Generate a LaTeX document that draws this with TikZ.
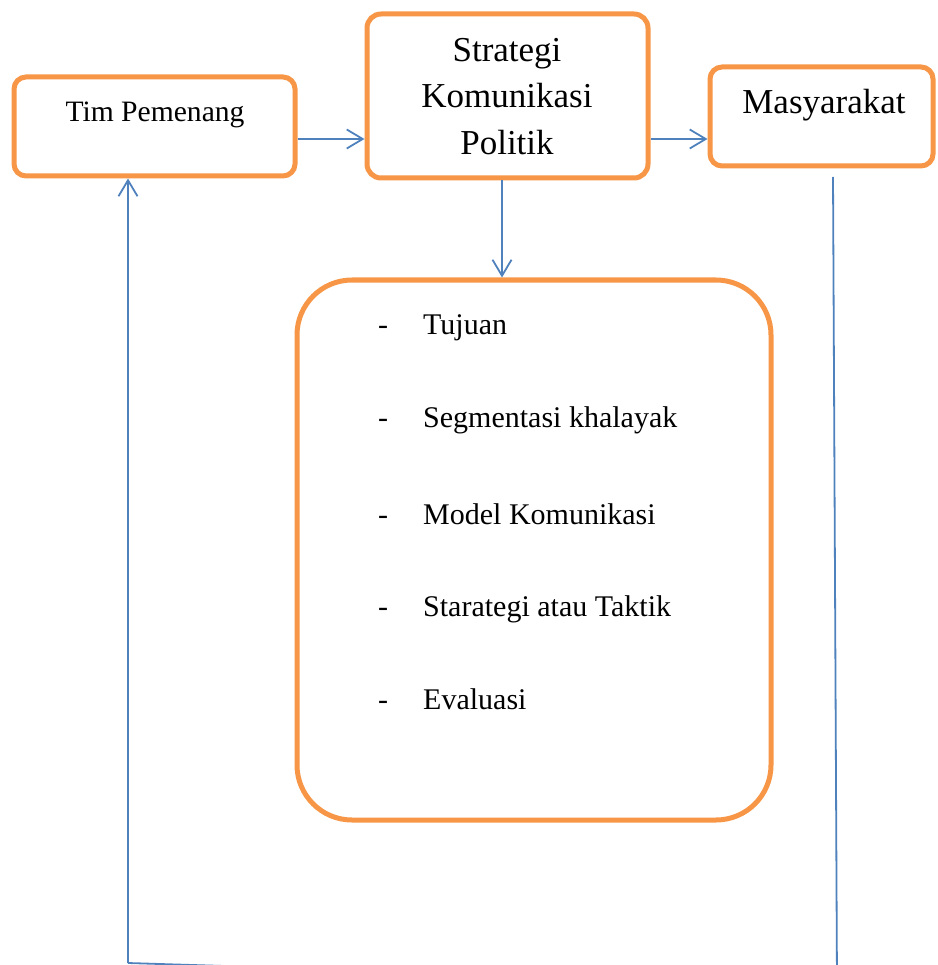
\documentclass[tikz,border=0pt]{standalone}
\usepackage{fontspec}
\setmainfont{Liberation Serif}
\usetikzlibrary{arrows.meta}
\definecolor{boxorange}{RGB}{247,150,70}
\definecolor{linkblue}{RGB}{79,129,189}
\begin{document}
\begin{tikzpicture}[x=1pt,y=-1pt,
  box/.style={draw=boxorange, line width=5pt, rounded corners=12pt, fill=white, inner sep=0pt},
  conn/.style={draw=linkblue, line width=1.8pt, -{Straight Barb[length=16pt,width=19pt,line width=1.8pt]}},
  plain/.style={draw=linkblue, line width=1.8pt},
  smalltxt/.style={font=\fontsize{29.6}{35}\selectfont, inner sep=0pt},
  bigtxt/.style={font=\fontsize{35}{46}\selectfont, inner sep=0pt},
  itemtxt/.style={font=\fontsize{30}{36}\selectfont, inner sep=0pt}]
\useasboundingbox (0,0) rectangle (937,965);
% boxes
\node[box, minimum width=281pt, minimum height=99pt] (tim) at (154.5,126.5) {};
\node[box, minimum width=281pt, minimum height=164pt, rounded corners=14pt] (strat) at (507.5,96) {};
\node[box, minimum width=223pt, minimum height=99pt] (masy) at (821.5,116.5) {};
\node[box, minimum width=474pt, minimum height=540pt, rounded corners=55pt] (big) at (534,550) {};
% texts
\node[smalltxt, anchor=base] (timt) at (155,122) {Tim Pemenang};
\node[bigtxt, anchor=base] (s1) at (507,61.5) {Strategi};
\node[bigtxt, anchor=base] (s2) at (507,108) {Komunikasi};
\node[bigtxt, anchor=base] (s3) at (507,154.5) {Politik};
\node[bigtxt, anchor=base] (masyt) at (824,114) {Masyarakat};
% items
\node[itemtxt, anchor=base] (d1) at (383,334) {-};
\node[itemtxt, anchor=base west] (i1) at (423,334) {Tujuan};
\node[itemtxt, anchor=base] (d2) at (383,427) {-};
\node[itemtxt, anchor=base west] (i2) at (423,427) {Segmentasi khalayak};
\node[itemtxt, anchor=base] (d3) at (383,524) {-};
\node[itemtxt, anchor=base west] (i3) at (423,524) {Model Komunikasi};
\node[itemtxt, anchor=base] (d4) at (383,616) {-};
\node[itemtxt, anchor=base west] (i4) at (423,616) {Starategi atau Taktik};
\node[itemtxt, anchor=base] (d5) at (383,709) {-};
\node[itemtxt, anchor=base west] (i5) at (423,709) {Evaluasi};
% connectors
\draw[conn] ([yshift=-12.5pt]tim.east) -- ([yshift=-12.5pt]tim.east -| strat.west);
\draw[conn] ([yshift=-43pt]strat.east) -- ([yshift=-43pt]strat.east -| masy.west);
\draw[conn] ([xshift=-5.5pt]strat.south) -- ([xshift=-5.5pt]strat.south |- big.north);
\coordinate (mtop) at (833,177);
\coordinate (mb) at (837,985);
\coordinate (lb) at (128,963);
\draw[plain] (mtop) -- (mb);
\draw[plain] (lb) -- (mb);
\draw[conn] (lb) -- (lb |- tim.south);
\end{tikzpicture}
\end{document}
